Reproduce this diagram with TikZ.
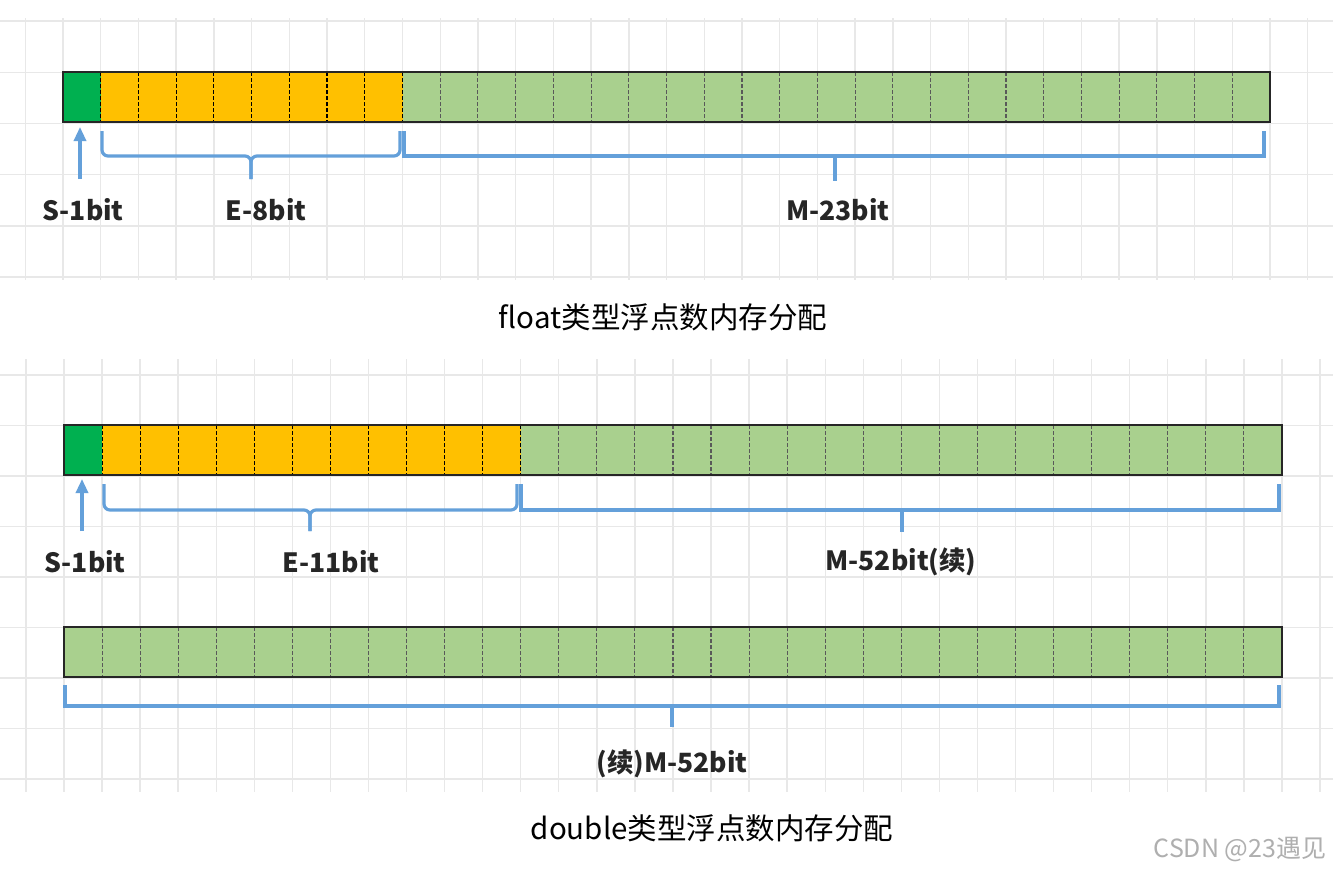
\documentclass[tikz,border=0pt]{standalone}
\usepackage{fontspec}
\setmainfont{Noto Sans CJK SC}
\usetikzlibrary{arrows.meta}
\definecolor{sgreen}{RGB}{0,176,80}
\definecolor{eorange}{RGB}{255,192,0}
\definecolor{mgreen}{RGB}{169,208,142}
\definecolor{braceblue}{RGB}{100,160,218}
\definecolor{gridgray}{RGB}{232,232,232}
\definecolor{wmgray}{RGB}{175,175,175}
\tikzset{
  seg/.style={inner sep=0pt, outer sep=0pt, minimum height=50pt},
  barline/.style={draw=black!85, line width=2pt, inner sep=0pt, outer sep=0pt, minimum height=50pt},
  divider/.style={line width=1.1pt, dash pattern=on 3.5pt off 2.5pt},
  brace/.style={draw=braceblue, line width=3.2pt},
  rbrace/.style={brace, rounded corners=6pt},
  sarrow/.style={draw=braceblue, line width=3.2pt, -{Triangle[width=12pt,length=14pt]}},
  lab/.style={font=\bfseries\fontsize{26.5}{28}\selectfont, text=black!85, inner sep=0pt},
  ttl/.style={font=\fontsize{29.5}{31}\selectfont, text=black, inner sep=0pt},
  wm/.style={font=\fontsize{25}{27}\selectfont, text=wmgray, inner sep=0pt},
  gridline/.style={draw=gridgray, line width=1.4pt}
}
\begin{document}
\begin{tikzpicture}[x=1pt,y=-1pt]
\useasboundingbox (0,0) rectangle (1333,871);
\fill[white] (0,0) rectangle (1333,871);
% ---------- background grids ----------
\begin{scope}
\clip (0,0) rectangle (1333,871);
\foreach \k in {-1,...,35} {
  \draw[gridline] ({63+\k*37.72},18) -- ({63+\k*37.72},280);
}
\foreach \yy in {21,72.2,123.4,174.6,225.8,277} {
  \draw[gridline] (0,\yy) -- (1333,\yy);
}
\foreach \k in {-1,...,35} {
  \draw[gridline] ({64+\k*38.06},359) -- ({64+\k*38.06},792);
}
\foreach \k in {0,...,8} {
  \draw[gridline] (0,{375+\k*50.5}) -- (1333,{375+\k*50.5});
}
\end{scope}
% ---------- float bar ----------
\node[seg, fill=sgreen, minimum width=37.72pt] (s1) at (81.86,97) {};
\node[seg, fill=eorange, minimum width=301.76pt] (e1) at (251.62,97) {};
\node[seg, fill=mgreen, minimum width=867.56pt] (m1) at (836.28,97) {};
\foreach \k in {1,...,9} {
  \draw[divider, draw=black] ({63+\k*37.72},72) -- ({63+\k*37.72},122);
}
\foreach \k in {10,...,31} {
  \draw[divider, draw=black!65] ({63+\k*37.72},72) -- ({63+\k*37.72},122);
}
\node[barline, minimum width=1207pt] (bar1) at (666.5,97) {};
% braces float
\draw[sarrow] (80,179) -- (80,127);
\coordinate (e1a) at (102,131);
\coordinate (e1b) at (400,131);
\coordinate (e1m) at (251,179);
\draw[rbrace] (e1a) |- (e1m |- 0,156) -- (e1m);
\draw[rbrace] (e1b) |- (e1m |- 0,156) -- (e1m);
\coordinate (m1a) at (404,131);
\coordinate (m1b) at (1264,131);
\coordinate (m1m) at (835,181);
\draw[brace] (m1a) |- (m1b |- 0,156) -- (m1b);
\draw[brace] (m1m |- 0,156) -- (m1m);
\node[lab] (ls1) at (83,210) {S-1bit};
\node[lab] (le1) at (266,210) {E-8bit};
\node[lab] (lm1) at (838,210) {M-23bit};
\node[ttl] (t1) at (663,317) {float类型浮点数内存分配};
% ---------- double bar 1 ----------
\node[seg, fill=sgreen, minimum width=38.06pt] (s2) at (83.03,450) {};
\node[seg, fill=eorange, minimum width=418.66pt] (e2) at (311.39,450) {};
\node[seg, fill=mgreen, minimum width=761.2pt] (m2) at (901.4,450) {};
\foreach \k in {1,...,12} {
  \draw[divider, draw=black] ({64+\k*38.06},425) -- ({64+\k*38.06},475);
}
\foreach \k in {13,...,31} {
  \draw[divider, draw=black!65] ({64+\k*38.06},425) -- ({64+\k*38.06},475);
}
\node[barline, minimum width=1218pt] (bar2) at (673,450) {};
\draw[sarrow] (82,531) -- (82,479);
\coordinate (e2a) at (104,484);
\coordinate (e2b) at (517,484);
\coordinate (e2m) at (310,531);
\draw[rbrace] (e2a) |- (e2m |- 0,510) -- (e2m);
\draw[rbrace] (e2b) |- (e2m |- 0,510) -- (e2m);
\coordinate (m2a) at (521,484);
\coordinate (m2b) at (1279,484);
\coordinate (m2m) at (902,532);
\draw[brace] (m2a) |- (m2b |- 0,510) -- (m2b);
\draw[brace] (m2m |- 0,510) -- (m2m);
\node[lab] (ls2) at (85,562) {S-1bit};
\node[lab] (le2) at (331,562) {E-11bit};
\node[lab] (lm2) at (901,562) {M-52bit(续)};
% ---------- double bar 2 ----------
\node[seg, fill=mgreen, minimum width=1218pt] (m3) at (673,652) {};
\foreach \k in {1,...,31} {
  \draw[divider, draw=black!65] ({64+\k*38.06},627) -- ({64+\k*38.06},677);
}
\node[barline, minimum width=1218pt] (bar3) at (673,652) {};
\coordinate (m3a) at (65,685);
\coordinate (m3b) at (1279,685);
\coordinate (m3m) at (672,727);
\draw[brace] (m3a) |- (m3b |- 0,706) -- (m3b);
\draw[brace] (m3m |- 0,706) -- (m3m);
\node[lab] (lm3) at (672,764) {(续)M-52bit};
\node[ttl] (t2) at (712,828) {double类型浮点数内存分配};
\node[wm] (w) at (1240,849) {CSDN @23遇见};
\end{tikzpicture}
\end{document}
